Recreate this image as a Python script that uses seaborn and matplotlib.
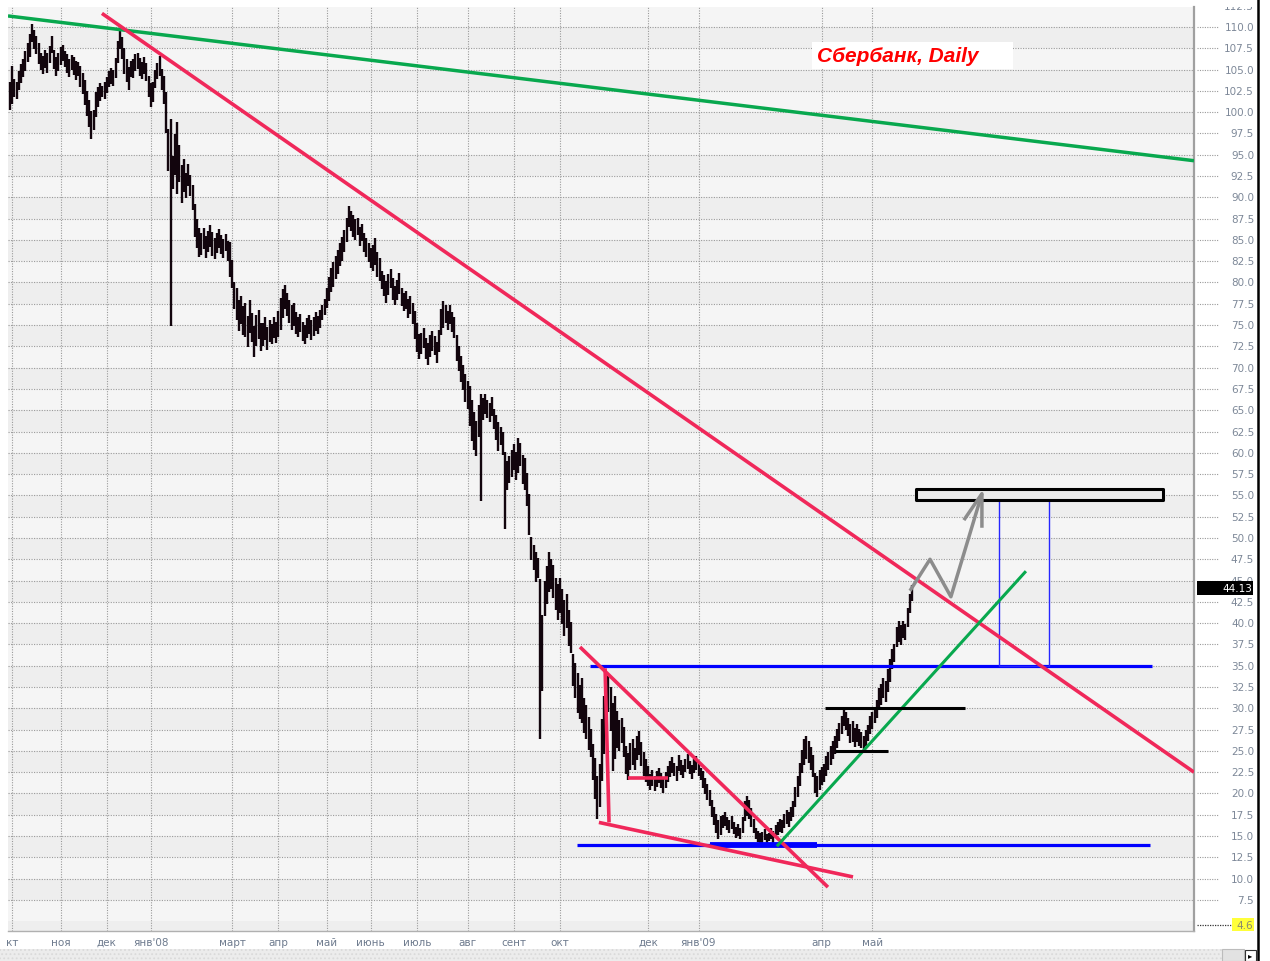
import numpy as np
import pandas as pd
import matplotlib
matplotlib.use("Agg")
import matplotlib.pyplot as plt
import seaborn as sns
from matplotlib.patches import Rectangle
from matplotlib.lines import Line2D
from matplotlib.transforms import blended_transform_factory, Bbox, TransformedBbox

# daily bars (trading day index), Oct 2007 .. May 2009
lows = [
    100.2, 101.0, 101.8, 101.5, 102.6, 103.4, 104.1, 104.8, 105.9, 106.5,
    108.2, 107.4, 106.8, 105.6, 104.9, 104.5, 105.2, 104.6, 105.8, 106.9,
    105.1, 104.3, 104.8, 105.5, 106.0, 105.3, 104.6, 104.1, 104.9, 104.4, 103.8, 104.2,
    103.0, 102.1, 100.9, 99.6, 98.3, 96.8, 97.9,
    99.4, 100.6, 101.3, 101.8, 101.6, 102.2,
    102.9, 103.3, 103.1, 104.0, 105.8,
    107.4, 106.3, 104.5, 103.5, 102.6, 104.1,
    104.0, 104.8, 105.1, 104.3, 103.9, 104.5, 103.7,
    101.8, 100.6, 101.2,
    102.8, 103.9, 104.2,
    102.6, 101.0, 97.6,
    93.1, 74.9, 91.0,
    92.6, 90.4, 91.8,
    89.3, 90.6, 89.9, 91.3, 90.2, 88.5,
    85.4, 84.1, 83.0,
    83.2, 83.9, 82.9, 83.6, 84.2, 83.1, 82.8, 83.5, 84.0, 83.3, 82.9, 83.7, 82.5,
    80.6, 79.3,
    76.9, 75.6, 74.3, 75.1, 73.8,
    73.6, 72.4, 74.1, 73.0, 71.3, 72.5, 73.4, 72.0,
    72.6, 73.3, 72.1, 73.0, 72.8, 73.5, 72.9, 73.6, 74.4,
    75.8, 76.9, 76.1, 75.2, 74.4, 74.9, 74.0,
    73.6, 74.2, 73.1, 72.8, 73.5, 74.0, 73.2, 73.7, 74.3, 73.9, 74.6,
    75.6, 76.2, 77.0,
    77.8, 78.9, 79.5, 80.4, 81.0, 81.9, 82.5, 83.6, 84.8,
    86.5, 86.0, 85.3,
    85.0, 85.6, 84.3, 84.9, 83.6, 83.0, 82.4, 81.7,
    81.3, 82.0, 80.7, 80.2,
    79.2, 78.4, 77.6, 78.5, 79.3, 78.0, 77.3, 77.9, 78.6,
    77.2, 76.6, 76.9, 75.8, 76.3, 75.1,
    73.4, 71.8, 71.0,
    71.6, 72.3, 71.0, 70.3, 71.2, 72.0, 71.5, 70.6, 71.8,
    73.8, 74.6, 75.3, 74.4, 75.1, 74.2, 73.5,
    70.8, 69.6, 68.3, 67.4, 66.0, 65.2,
    63.1, 61.4, 60.3, 59.6, 61.8, 54.3,
    63.9, 64.5, 64.1, 63.6, 64.3, 62.8,
    61.5, 60.2, 60.9, 59.8,
    51.0, 55.6, 56.4,
    57.2, 58.0, 56.8, 57.6, 58.4, 56.3,
    55.6, 53.8, 50.3,
    47.4, 46.2, 44.8, 45.3,
    26.4, 32.0,
    40.8, 42.3, 43.6, 44.0, 42.9, 41.6, 40.4,
    41.2, 39.9, 38.5, 39.4, 37.3, 36.5,
    32.6, 31.2, 29.5, 28.8,
    28.3, 27.1, 26.4, 25.1, 24.3,
    21.6, 19.3, 17.0, 18.4,
    21.5, 24.6,
    28.4, 29.6, 27.3,
    22.6, 24.1, 25.3,
    25.0, 25.9, 24.3,
    22.3, 21.6, 22.8, 23.4, 22.7, 23.9, 24.5, 23.2, 22.1, 21.4, 20.9,
    20.4, 20.9, 20.3, 20.8, 21.2, 20.6, 20.1, 20.7, 21.3,
    21.9, 22.4, 22.0, 21.5, 22.6, 22.2, 21.8, 22.5, 22.9, 22.3, 21.7, 22.4, 22.8, 22.1, 21.6,
    20.6, 19.9, 19.2, 18.5,
    17.2, 16.3, 15.4, 14.6, 15.1,
    15.9, 16.2, 15.7, 15.4, 15.8, 15.2,
    14.8, 15.0, 14.7, 15.3,
    16.8, 17.4, 17.0, 16.1, 15.4,
    14.6, 14.3, 13.7, 14.2, 14.5, 14.1, 14.4, 14.6, 14.2,
    14.8, 15.1, 15.5, 15.3, 16.0, 16.4, 16.1, 16.8, 17.2,
    18.4, 19.6, 20.9,
    22.4, 23.3, 24.0, 23.6, 22.8, 21.9,
    20.1, 19.6, 20.4, 21.0, 21.3,
    22.1, 22.7, 23.3, 24.0, 24.6, 25.3,
    26.2, 27.0, 27.9, 27.4, 26.8, 25.9,
    26.1, 25.4, 26.0, 25.6,
    25.3, 24.9, 25.6, 26.2,
    27.0, 27.6, 28.3, 28.9,
    29.8, 30.4, 31.2,
    30.7, 31.9, 33.1,
    34.6, 35.4,
    37.2, 37.8, 37.4, 38.3, 38.0,
    39.6, 41.2, 42.6,
]
highs = [
    103.6, 105.4, 103.9, 103.6, 104.8, 105.6, 106.3, 107.2, 108.1, 109.2,
    110.4, 109.6, 108.9, 108.1, 107.0, 106.6, 107.3, 106.9, 107.8, 108.9,
    107.3, 106.5, 106.9, 107.6, 107.9, 107.2, 106.8, 106.3, 106.7, 106.5, 106.0, 105.9,
    105.4, 104.6, 103.8, 102.5, 101.4, 100.1, 100.3,
    102.4, 102.9, 103.4, 103.1, 103.6, 104.1,
    104.8, 105.2, 104.9, 106.4, 108.3,
    109.7, 108.8, 107.5, 106.2, 105.3, 106.0,
    106.2, 106.8, 107.0, 106.4, 105.9, 106.5, 105.8,
    104.2, 103.4, 103.6,
    104.9, 105.8, 106.6,
    105.1, 104.3, 102.4,
    98.0, 99.2, 94.9,
    97.4, 98.8, 96.1,
    93.8, 94.5, 92.8, 93.9, 92.6, 91.4,
    89.2, 87.5, 86.4,
    85.8, 86.4, 85.5, 86.1, 86.7, 85.9, 85.2, 85.8, 86.3, 85.6, 85.1, 85.7, 84.9,
    84.8, 82.7,
    80.1, 79.4, 77.9, 78.4, 77.2,
    77.6, 76.1, 78.0, 76.4, 74.9, 76.2, 76.8, 75.3,
    75.2, 75.9, 74.8, 75.6, 75.1, 76.0, 75.4, 76.7, 78.2,
    79.2, 79.7, 78.8, 78.0, 77.3, 77.6, 76.5,
    75.9, 76.3, 75.4, 75.0, 75.8, 76.2, 75.6, 76.0, 76.5, 76.1, 76.8,
    77.4, 78.1, 79.3,
    80.6, 81.7, 82.4, 83.1, 83.8, 84.6, 85.3, 86.2, 87.6,
    89.0, 88.4, 87.9,
    87.4, 87.6, 86.5, 86.9, 85.8, 85.2, 84.6, 84.0,
    84.4, 85.2, 83.6, 82.9,
    81.4, 80.9, 80.2, 81.0, 81.6, 80.5, 79.6, 80.3, 81.1,
    79.3, 78.8, 79.0, 78.1, 78.4, 77.6,
    76.6, 75.2, 73.9,
    74.1, 74.6, 73.5, 72.9, 73.8, 74.3, 73.7, 73.0, 74.4,
    76.9, 77.8, 77.4, 76.7, 77.3, 76.5, 75.9,
    73.8, 72.6, 71.4, 70.3, 69.2, 68.4,
    67.9, 66.2, 64.8, 63.7, 65.6, 66.9,
    66.4, 66.9, 66.2, 65.8, 66.5, 65.2,
    64.4, 63.6, 63.0, 62.4,
    60.1, 59.0, 59.6,
    60.3, 61.0, 60.1, 61.7, 61.2, 59.8,
    59.4, 57.6, 55.2,
    50.1, 49.2, 48.3, 47.6,
    45.2, 41.0,
    44.9, 46.7, 48.3, 47.5, 46.8, 45.3, 44.6,
    45.3, 44.0, 42.7, 43.4, 41.5, 40.1,
    36.4, 35.3, 34.1, 32.7,
    33.5, 31.2, 30.4, 29.0, 27.6,
    25.8, 24.2, 22.1, 23.5,
    28.8, 31.5,
    33.2, 33.8, 32.5,
    30.6, 31.4, 29.7,
    28.6, 28.9, 27.8,
    25.6, 24.8, 25.9, 26.4, 25.3, 26.7, 27.3, 26.0, 24.9, 24.1, 23.2,
    22.3, 22.8, 22.0, 22.6, 23.0, 22.4, 21.9, 22.5, 23.2,
    23.8, 24.3, 23.6, 23.2, 24.5, 23.9, 23.4, 24.1, 24.6, 23.8, 23.3, 24.0, 24.4, 23.6, 23.0,
    22.6, 21.8, 21.1, 20.4,
    19.2, 18.4, 17.6, 16.9, 17.3,
    17.5, 17.8, 17.2, 16.9, 17.3, 16.6,
    16.1, 16.4, 16.0, 17.2,
    19.1, 19.7, 19.2, 18.3, 17.0,
    16.0, 15.6, 15.3, 15.5, 15.8, 15.2, 15.4, 15.9, 15.6,
    16.3, 16.7, 17.0, 16.9, 17.6, 18.1, 17.8, 18.4, 19.1,
    20.8, 22.0, 23.6,
    25.1, 26.4, 26.8, 26.2, 25.4, 24.5,
    22.4, 22.0, 22.8, 23.1, 23.5,
    24.4, 24.9, 25.6, 26.2, 26.8, 27.6,
    28.3, 29.1, 30.0, 29.6, 28.9, 28.1,
    28.5, 27.7, 28.2, 27.6,
    27.2, 26.8, 27.5, 28.0,
    29.1, 29.6, 30.2, 31.0,
    32.4, 32.8, 33.5,
    33.2, 34.6, 35.8,
    37.0, 37.6,
    39.6, 40.2, 39.8, 40.3, 39.9,
    41.8, 43.4, 44.5,
]

last_price = 44.13
low_mark = 4.6

month_pos = [1, 23, 44, 64, 101, 122, 144, 164, 185, 208, 229, 250, 290, 313, 369, 392]
month_lbl = ["кт", "ноя", "дек", "янв'08", "март", "апр", "май", "июнь", "июль",
             "авг", "сент", "окт", "дек", "янв'09", "апр", "май"]

# drawn analysis lines, (bar index, price)
green_long = ([-0.9, 538.2], [111.3, 94.3])
red_long = ([41.8, 538.2], [111.6, 22.5])
red_wedge_top = ([259.1, 371.8], [37.2, 9.0])
red_wedge_low = ([267.7, 383.2], [16.6, 10.2])
red_drop = ([270.5, 272.3], [34.7, 16.6])
red_step = ([280.9, 299.1], [21.8, 21.8])
blue_top = ([263.6, 519.1], [35.0, 35.0])
blue_low = ([257.7, 518.2], [14.0, 14.0])
blue_low_thick = ([318.2, 366.8], [14.0, 14.0])
green_up = ([348.6, 461.8], [13.8, 46.1])
black_top = ([370.5, 434.1], [30.0, 30.0])
black_low = ([375.0, 399.1], [25.0, 25.0])
target_x, target_y = [411.8, 524.1], [54.45, 55.75]
measure_x, measure_y = [449.5, 472.3], [35.0, 55.2]
path_x, path_y = [409.1, 418.2, 427.7, 441.8], [43.8, 47.5, 43.1, 55.2]
head_x, head_y = [433.6, 441.8, 441.8], [52.1, 55.2, 51.2]

sns.set_style("white")
plt.rcParams['font.family'] = ['DejaVu Sans']
plt.rcParams['hatch.color'] = '#d2d2d2'
plt.rcParams['hatch.linewidth'] = 0.8

W, H = 1270, 962
fig = plt.figure(figsize=(W / 100, H / 100), dpi=100)
fig.patch.set_facecolor('white')
ax = fig.add_axes([8 / W, 30 / H, 1186 / W, 924 / H])
ax.set_xlim(-0.9, 538.2)
ax.set_ylim(3.85, 112.35)
ax.set_facecolor('#f3f3f3')

# alternating bands between grid lines
for k, lv in enumerate(np.arange(2.5, 112.5, 2.5)):
    ax.axhspan(lv, lv + 2.5, color='#f5f5f5' if k % 2 else '#eeeeee', lw=0, zorder=0)

ax.set_xticks(month_pos)
ax.set_xticklabels(month_lbl)
ax.set_yticks(np.arange(7.5, 111, 2.5))
ax.set_axisbelow(True)
ax.grid(True, color='#9a9a9a', ls=(0, (1, 1.3)), lw=0.8)
ax.tick_params(axis='x', length=0, pad=4, labelsize=7.5, labelcolor='#6e7b8e')
ax.tick_params(axis='y', length=0, labelleft=False, labelright=False)
for s in ['top', 'left']:
    ax.spines[s].set_visible(False)
ax.spines['right'].set_color('#a0a0a0')
ax.spines['right'].set_linewidth(1.6)
ax.spines['bottom'].set_color('#b0b0b0')
ax.spines['bottom'].set_linewidth(1.0)
ax.set_xlabel('')
ax.set_ylabel('')

bars = pd.DataFrame({'i': np.arange(len(lows)), 'lo': lows, 'hi': highs})
ax.vlines(bars['i'], bars['lo'], bars['hi'], color='#12050d', lw=1.7, zorder=2)


def draw(line, color, lw, z):
    sns.lineplot(x=line[0], y=line[1], ax=ax, color=color, lw=lw, sort=False,
                 estimator=None, zorder=z, solid_capstyle='butt')


RED, GREEN, BLUE = '#f0285a', '#08a84e', '#0000ff'
draw(blue_top, BLUE, 2.3, 3)
draw(blue_low, BLUE, 2.3, 3)
draw(blue_low_thick, BLUE, 4.2, 3)
draw(green_long, GREEN, 2.5, 4)
draw(red_long, RED, 2.6, 4)
draw(red_wedge_top, RED, 2.6, 4)
draw(red_wedge_low, RED, 2.6, 4)
draw(red_drop, RED, 2.6, 4)
draw(red_step, RED, 2.6, 4)
draw(green_up, GREEN, 2.2, 4.5)
draw(black_top, 'black', 2.2, 5)
draw(black_low, 'black', 2.2, 5)

ax.add_patch(Rectangle((target_x[0], target_y[0]), target_x[1] - target_x[0],
                       target_y[1] - target_y[0], fc='#ebebeb', ec='black', lw=2.2,
                       joinstyle='round', zorder=5))
ax.add_patch(Rectangle((measure_x[0], measure_y[0]), measure_x[1] - measure_x[0],
                       measure_y[1] - measure_y[0], fill=False, ec='#2626ff', lw=1.0,
                       zorder=3))
draw((path_x, path_y), '#8c8c8c', 2.5, 6)
draw((head_x, head_y), '#8c8c8c', 2.5, 6)

# price scale on the right
tr = blended_transform_factory(ax.transAxes, ax.transData)


def xa(px):
    return (px - 8) / 1186


top_clip = TransformedBbox(Bbox([[0, 0], [1, 1 - 8 / H]]), fig.transFigure)
box_clip = TransformedBbox(Bbox([[0, last_price + 0.8], [2, 120]]), tr)
for v in np.arange(7.5, 112.6, 2.5):
    if v < 111:
        ax.plot([xa(1197), xa(1219)], [v, v], transform=tr, clip_on=False,
                color='#9a9a9a', lw=0.8, ls=(0, (1, 1.2)))
    t = ax.text(xa(1254), v, f'{v:.1f}', transform=tr, ha='right', va='center',
                fontsize=7.5, color='#7d8898')
    # labels partly hidden: top one under the window edge, 45.0 under the price box
    if abs(v - last_price) < 1.5:
        t.set_clip_box(box_clip)
    else:
        t.set_clip_box(top_clip)
    t.set_clip_on(True)

ax.add_patch(Rectangle((xa(1197), last_price - 0.8), xa(1253) - xa(1197), 1.6,
                       transform=tr, fc='black', ec='none', clip_on=False, zorder=7))
ax.text(xa(1252), last_price, f'{last_price:.2f}', transform=tr, ha='right',
        va='center', fontsize=7.5, color='white', zorder=8)

ax.plot([xa(1197), xa(1231)], [low_mark, low_mark], transform=tr, clip_on=False,
        color='#333333', lw=0.9, ls=(0, (1, 1)))
ax.add_patch(Rectangle((xa(1232), low_mark - 0.75), xa(1254) - xa(1232), 1.5,
                       transform=tr, fc='#ffff3a', ec='none', clip_on=False, zorder=7))
ax.text(xa(1253), low_mark, f'{low_mark:.1f}', transform=tr, ha='right',
        va='center', fontsize=7.5, color='#8a8a70', zorder=8)

# title label
fig.add_artist(Rectangle((812 / W, 1 - 70 / H), 201 / W, 27 / H,
                         transform=fig.transFigure, fc='white', ec='none', zorder=9))
fig.text(817 / W, 1 - 57 / H, 'Сбербанк, Daily', color='#ff0000', fontsize=15,
         fontweight='bold', style='italic', family=['Liberation Sans', 'DejaVu Sans'],
         va='center', ha='left', zorder=10)

# window chrome: scrollbar and right border
fig.add_artist(Rectangle((0, 0), 1222 / W, 12 / H, transform=fig.transFigure,
                         fc='#ececec', ec='#dadada', hatch='....', lw=0))
fig.add_artist(Rectangle((1222 / W, 0), 22 / W, 12 / H, transform=fig.transFigure,
                         fc='#e2e2e2', ec='#bcbcbc', lw=0.8))
fig.add_artist(Rectangle((1245 / W, 0.5 / H), 11 / W, 11 / H, transform=fig.transFigure,
                         fc='white', ec='#333333', lw=0.8))
fig.text(1250.5 / W, 6 / H, '▸', fontsize=6, ha='center', va='center', color='black')
fig.add_artist(Line2D([1257.5 / W, 1257.5 / W], [0, 1], transform=fig.transFigure,
                      color='black', lw=1.8))

fig.savefig('out.png', dpi=100, facecolor='white')
